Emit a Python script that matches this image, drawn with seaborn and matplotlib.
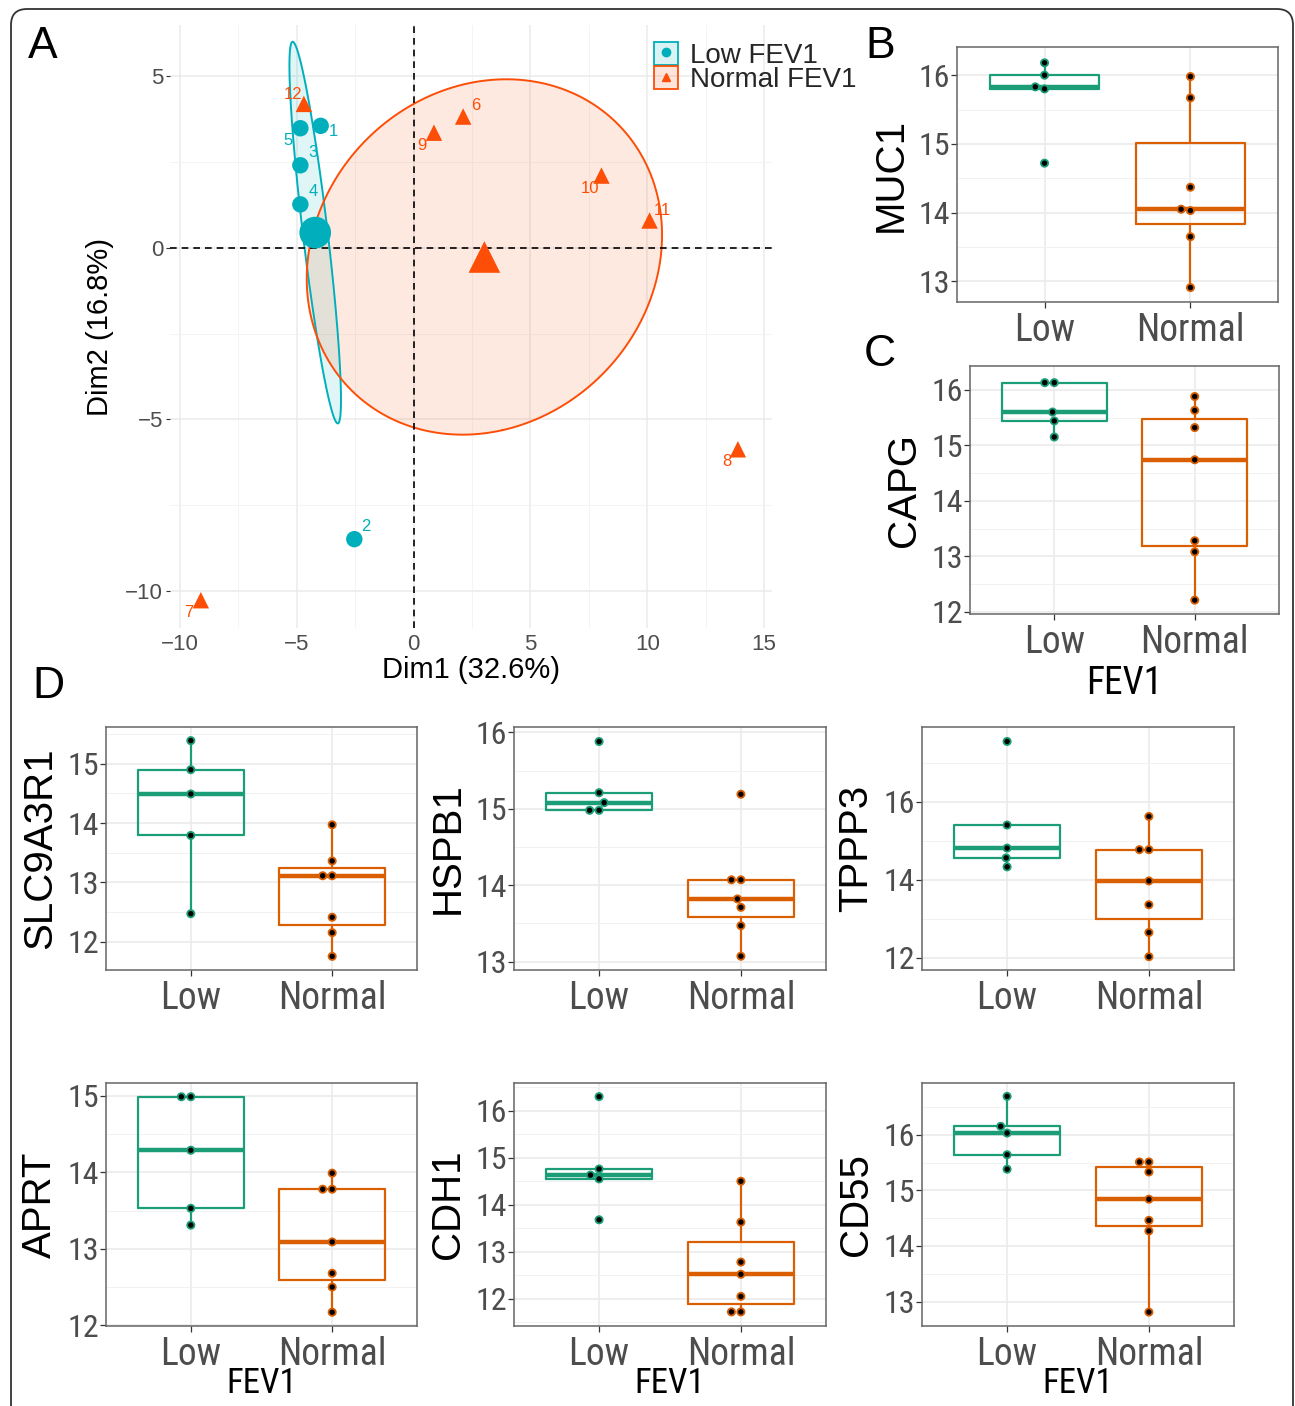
import numpy as np
import pandas as pd
import seaborn as sns
import matplotlib.pyplot as plt
from matplotlib import font_manager
from matplotlib.font_manager import FontProperties
from matplotlib.lines import Line2D
from matplotlib.patches import Patch, FancyBboxPatch
from matplotlib.legend_handler import HandlerTuple
from matplotlib.ticker import MultipleLocator

# ---- panel A: PCA individuals ----
low_ids = ['1', '2', '3', '4', '5']
low_dim1 = [-3.98, -2.54, -4.85, -4.85, -4.85]
low_dim2 = [3.56, -8.49, 2.41, 1.27, 3.49]
normal_ids = ['6', '7', '8', '9', '10', '11', '12']
normal_dim1 = [2.12, -9.11, 13.88, 0.87, 8.04, 10.10, -4.70]
normal_dim2 = [3.83, -10.27, -5.87, 3.36, 2.11, 0.80, 4.20]

# ---- panels B-D: expression by FEV1 group ----
groups = ['Low', 'Normal']
genes = ['MUC1', 'CAPG', 'SLC9A3R1', 'HSPB1', 'TPPP3', 'APRT', 'CDH1', 'CD55']
low_values = {
    'MUC1': [16.18, 16.00, 15.80, 15.83, 14.72],
    'CAPG': [16.13, 16.13, 15.60, 15.44, 15.15],
    'SLC9A3R1': [15.39, 14.90, 14.49, 13.79, 12.47],
    'HSPB1': [15.88, 15.21, 15.08, 14.98, 14.98],
    'TPPP3': [17.54, 15.40, 14.81, 14.56, 14.33],
    'APRT': [14.99, 14.99, 14.29, 13.53, 13.31],
    'CDH1': [16.30, 14.76, 14.63, 14.55, 13.68],
    'CD55': [16.69, 16.15, 16.03, 15.64, 15.38],
}
normal_values = {
    'MUC1': [15.98, 15.67, 14.37, 14.03, 14.05, 13.65, 12.91],
    'CAPG': [15.88, 15.63, 15.32, 14.74, 13.28, 13.08, 12.21],
    'SLC9A3R1': [13.97, 13.36, 13.11, 13.11, 12.41, 12.15, 11.75],
    'HSPB1': [15.19, 14.07, 14.07, 13.82, 13.71, 13.47, 13.07],
    'TPPP3': [15.62, 14.77, 14.77, 13.97, 13.36, 12.65, 12.03],
    'APRT': [13.99, 13.78, 13.78, 13.09, 12.68, 12.50, 12.17],
    'CDH1': [14.50, 13.63, 12.78, 12.52, 12.05, 11.72, 11.72],
    'CD55': [15.51, 15.51, 15.33, 14.84, 14.46, 14.27, 12.81],
}

# ---- layout (pixel boxes, limits) ----
W, H = 1295, 1406
box_px = {
    'MUC1': (957, 47, 1278, 302), 'CAPG': (970, 366, 1279, 614),
    'SLC9A3R1': (106, 727, 417, 970), 'HSPB1': (514, 727, 826, 970),
    'TPPP3': (922, 727, 1234, 970), 'APRT': (106, 1083, 417, 1326),
    'CDH1': (514, 1083, 826, 1326), 'CD55': (922, 1083, 1234, 1326),
}
ylims = {
    'MUC1': (12.70, 16.41), 'CAPG': (11.96, 16.43), 'SLC9A3R1': (11.52, 15.62),
    'HSPB1': (12.89, 16.07), 'TPPP3': (11.69, 17.91), 'APRT': (11.99, 15.17),
    'CDH1': (11.42, 16.59), 'CD55': (12.56, 16.93),
}
ystep = {'TPPP3': 2}
# FEV1 x-label: (font size, labelpad)
xlabel_style = {'CAPG': (27, 3), 'APRT': (25, -4), 'CDH1': (25, -4), 'CD55': (25, -4)}
label_offsets = {'1': (9, -4), '5': (-9, -9), '3': (9, 9), '4': (9, 9), '2': (8, 9),
                 '12': (-8, 7), '6': (9, 8), '9': (-9, -9), '10': (-8, -9),
                 '11': (9, 7), '8': (-8, -9), '7': (-9, -9)}

pca_colors = {'Low': '#00AFBB', 'Normal': '#FC4E07'}
box_colors = {'Low': '#1B9E77', 'Normal': '#D95F02'}

sns.set_style('white')
names = {f.name for f in font_manager.fontManager.ttflist}
sans = 'Liberation Sans' if 'Liberation Sans' in names else 'DejaVu Sans'
plt.rcParams['font.family'] = [sans, 'DejaVu Sans']
plt.rcParams['axes.unicode_minus'] = True


def find_narrow_font():
    # look for any condensed / narrow regular face on the system
    files = set(f.fname for f in font_manager.fontManager.ttflist)
    files |= set(font_manager.findSystemFonts())
    prefs = ['robotocondensed-regular', 'roboto-condensed-regular', 'robotocondensed',
             'liberationsansnarrow-regular', 'dejavusanscondensed.ttf',
             'opensans_condensed-regular', 'opensans-condensed', 'condensed-regular']
    lower = {p.lower(): p for p in files}
    for key in prefs:
        for low, path in lower.items():
            if key in low.replace(' ', '').split('/')[-1]:
                return path
    return None


narrow_path = find_narrow_font()


def narrow_fp(size):
    if narrow_path:
        return FontProperties(fname=narrow_path, size=size)
    return FontProperties(family=sans, size=size * 0.88)


fig = plt.figure(figsize=(W / 100, H / 100), dpi=100)


def px_axes(x0, y0, x1, y1):
    return fig.add_axes([x0 / W, 1 - y1 / H, (x1 - x0) / W, (y1 - y0) / H])


# ---------------- panel A ----------------
pca = pd.DataFrame({
    'id': low_ids + normal_ids,
    'Dim1': low_dim1 + normal_dim1,
    'Dim2': low_dim2 + normal_dim2,
    'group': ['Low'] * len(low_ids) + ['Normal'] * len(normal_ids),
})
centers = pca.groupby('group', as_index=False)[['Dim1', 'Dim2']].mean()

ax = px_axes(170, 25, 772, 628)
ax.set_xlim(-10.43, 15.34)
ax.set_ylim(-11.08, 6.5)
for sp in ax.spines.values():
    sp.set_visible(False)
ax.xaxis.set_major_locator(MultipleLocator(5))
ax.xaxis.set_minor_locator(MultipleLocator(2.5))
ax.yaxis.set_major_locator(MultipleLocator(5))
ax.yaxis.set_minor_locator(MultipleLocator(2.5))
ax.grid(True, which='major', color='#EBEBEB', lw=1.1)
ax.grid(True, which='minor', color='#F2F2F2', lw=0.6)
ax.set_axisbelow(True)
ax.tick_params(axis='y', which='major', length=3, width=0.8, color='#333333',
               labelsize=16, labelcolor='#4D4D4D', left=True, pad=2)
ax.tick_params(axis='x', which='major', length=0, labelsize=16,
               labelcolor='#4D4D4D', pad=4)
ax.tick_params(which='minor', length=0)

# 95% confidence ellipses around group means
chi2_95 = -2 * np.log(0.05)
t = np.linspace(0, 2 * np.pi, 200)
for g in groups:
    sub = pca[pca['group'] == g][['Dim1', 'Dim2']].to_numpy()
    mu = sub.mean(axis=0)
    cov = np.cov(sub.T) / len(sub)
    vals, vecs = np.linalg.eigh(cov)
    circle = np.vstack([np.cos(t), np.sin(t)])
    pts = (vecs @ np.diag(np.sqrt(vals * chi2_95)) @ circle).T + mu
    ax.fill(pts[:, 0], pts[:, 1], color=pca_colors[g], alpha=0.12, lw=0, zorder=1)
    ax.plot(pts[:, 0], pts[:, 1], color=pca_colors[g], lw=1.4, zorder=2)

ax.axhline(0, color='black', ls=(0, (4, 3)), lw=1.2, zorder=2)
ax.axvline(0, color='black', ls=(0, (4, 3)), lw=1.2, zorder=2)

sns.scatterplot(data=pca, x='Dim1', y='Dim2', hue='group', style='group',
                palette=pca_colors, markers={'Low': 'o', 'Normal': '^'},
                s=140, linewidth=0, legend=False, ax=ax, zorder=3)
sns.scatterplot(data=centers, x='Dim1', y='Dim2', hue='group', style='group',
                palette=pca_colors, markers={'Low': 'o', 'Normal': '^'},
                s=520, linewidth=0, legend=False, ax=ax, zorder=3)
for _, r in pca.iterrows():
    ax.annotate(r['id'], (r['Dim1'], r['Dim2']), xytext=label_offsets[r['id']],
                textcoords='offset points', ha='center', va='center',
                fontsize=12, color=pca_colors[r['group']], zorder=4)
ax.set_xlabel('Dim1 (32.6%)', fontsize=21, color='black', labelpad=1)
ax.set_ylabel('Dim2 (16.8%)', fontsize=21, color='black', labelpad=8)

handles = []
for g, m in zip(groups, ['o', '^']):
    handles.append((Patch(facecolor=pca_colors[g], alpha=0.15, edgecolor='none'),
                    Patch(facecolor='none', edgecolor=pca_colors[g], lw=1.3),
                    Line2D([], [], marker=m, color=pca_colors[g], ls='none', markersize=6)))
fig.legend(handles, ['Low FEV1', 'Normal FEV1'], loc='upper left',
           bbox_to_anchor=(640 / W, 1 - 28 / H), frameon=False, fontsize=20,
           handler_map={tuple: HandlerTuple(ndivide=1, pad=0)},
           handlelength=0.85, handleheight=0.9, handletextpad=0.45,
           labelspacing=-0.1, borderpad=0)

# ---------------- panels B-D ----------------
for gene in genes:
    df = pd.DataFrame({
        'FEV1': ['Low'] * len(low_values[gene]) + ['Normal'] * len(normal_values[gene]),
        'value': low_values[gene] + normal_values[gene],
    })
    bx = px_axes(*box_px[gene])
    sns.boxplot(data=df, x='FEV1', y='value', hue='FEV1', order=groups,
                hue_order=groups, palette=box_colors, fill=False, showfliers=False,
                showcaps=False, width=0.75, linewidth=1.6, legend=False,
                medianprops={'linewidth': 3.2}, ax=bx, zorder=2)
    n0 = len(bx.collections)
    sns.swarmplot(data=df, x='FEV1', y='value', hue='FEV1', order=groups,
                  hue_order=groups, palette=box_colors, size=5.2, linewidth=0,
                  legend=False, ax=bx, zorder=3)
    for coll in bx.collections[n0:]:
        fc = coll.get_facecolor()
        coll.set_edgecolor(fc)
        coll.set_facecolor('black')
        coll.set_linewidth(1.3)

    bx.set_xlim(-0.6, 1.6)
    bx.set_ylim(*ylims[gene])
    step = ystep.get(gene, 1)
    bx.yaxis.set_major_locator(MultipleLocator(step))
    bx.yaxis.set_minor_locator(MultipleLocator(step / 2))
    bx.grid(True, which='major', color='#EBEBEB', lw=1.2)
    bx.grid(True, which='minor', axis='y', color='#F2F2F2', lw=0.7)
    bx.set_axisbelow(True)
    for sp in bx.spines.values():
        sp.set_color('#666666')
        sp.set_linewidth(1.1)
    bx.tick_params(axis='both', which='major', length=4, width=0.9,
                   color='#333333', labelcolor='#4D4D4D', left=True, bottom=True)
    bx.tick_params(which='minor', length=0)
    bx.tick_params(axis='y', pad=1)
    bx.tick_params(axis='x', pad=3)
    for lab in bx.get_yticklabels():
        lab.set_fontproperties(narrow_fp(23))
    for lab in bx.get_xticklabels():
        lab.set_fontproperties(narrow_fp(27))
    bx.set_ylabel(gene, fontsize=29, color='black', labelpad=6)
    if gene in xlabel_style:
        size, pad = xlabel_style[gene]
        bx.set_xlabel('FEV1', fontproperties=narrow_fp(size), color='black', labelpad=pad)
    else:
        bx.set_xlabel('')

# panel letters
for letter, (x, y) in {'A': (43, 47), 'B': (880, 47), 'C': (880, 355), 'D': (48, 687)}.items():
    fig.text(x / W, 1 - y / H, letter, fontsize=32, ha='center', va='center', color='black')

# rounded outer frame
frame = FancyBboxPatch((11, -30), 1282, H - 9 + 30, boxstyle='round,pad=0,rounding_size=16',
                       transform=None, fill=False, lw=1.3, edgecolor='#333333')
fig.patches.append(frame)

fig.savefig('out.png', dpi=100)
